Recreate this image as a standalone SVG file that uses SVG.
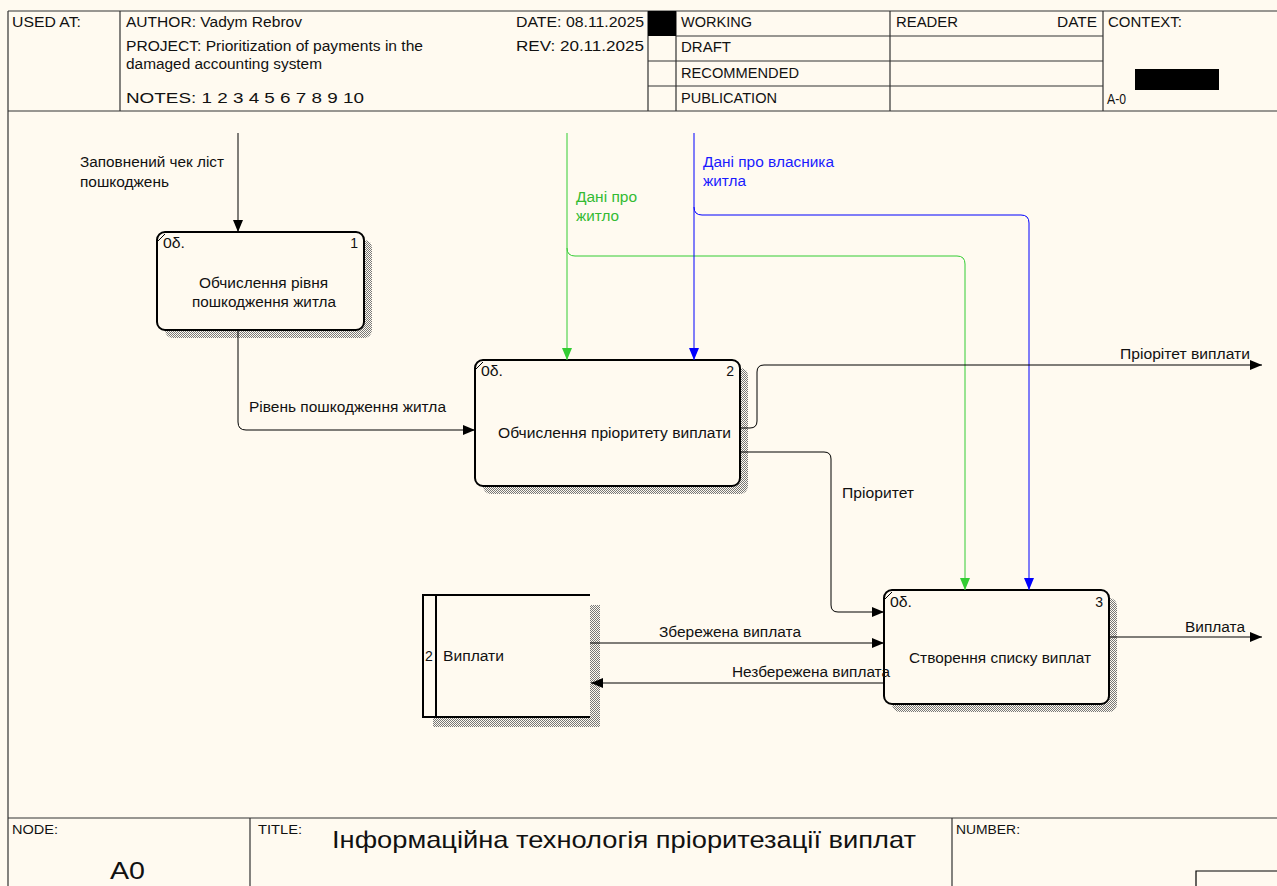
<svg xmlns="http://www.w3.org/2000/svg" width="1277" height="886" viewBox="0 0 1277 886">
<style>
text{font-family:"Liberation Sans",Arial,sans-serif;font-size:14px;fill:#111}
.small{font-size:12px}
.frame{fill:none;stroke:#333;stroke-width:1.2}
.box{fill:#FFFAF0;stroke:#000;stroke-width:2}
.shadow{fill:url(#hatch)}
.con{fill:none;stroke:#000;stroke-width:1}
.g{fill:none;stroke:#33cc33;stroke-width:1}
.b{fill:none;stroke:#0000ff;stroke-width:1}
.gt{fill:#33bb33}
.bt{fill:#1a1aff}
</style>
<defs>
<pattern id="hatch" width="2" height="2" patternUnits="userSpaceOnUse">
<rect width="2" height="2" fill="#FFFAF0"/>
<rect width="1" height="1" fill="#777"/>
<rect x="1" y="1" width="1" height="1" fill="#777"/>
</pattern>
<marker id="ak" markerWidth="12" markerHeight="10" refX="12" refY="5" orient="auto" markerUnits="userSpaceOnUse"><path d="M0,0 L12,5 L0,10 Z" fill="#000"/></marker>
<marker id="ag" markerWidth="12" markerHeight="10" refX="12" refY="5" orient="auto" markerUnits="userSpaceOnUse"><path d="M0,0 L12,5 L0,10 Z" fill="#33cc33"/></marker>
<marker id="ab" markerWidth="12" markerHeight="10" refX="12" refY="5" orient="auto" markerUnits="userSpaceOnUse"><path d="M0,0 L12,5 L0,10 Z" fill="#0000ff"/></marker>
</defs>
<rect width="1277" height="886" fill="#FFFAF0"/>

<g id="header">
<path class="frame" d="M8,11 H1277 M8,11 V886 M8,111 H1277 M120,11 V111 M648,11 V111 M676,11 V111 M890,11 V111 M1103,11 V111 M676,36 H1103 M648,61 H1103 M648,86 H1103"/>
<rect x="648" y="11" width="28" height="25" fill="#000"/>
<rect x="1135" y="69" width="84" height="21" fill="#000"/>
<text x="12" y="27" textLength="69" lengthAdjust="spacingAndGlyphs">USED AT:</text>
<text x="126" y="27" textLength="176" lengthAdjust="spacingAndGlyphs">AUTHOR:  Vadym Rebrov</text>
<text x="126" y="51" textLength="297" lengthAdjust="spacingAndGlyphs">PROJECT:  Prioritization of payments in the</text>
<text x="126" y="69" textLength="196" lengthAdjust="spacingAndGlyphs">damaged accounting system</text>
<text x="126" y="103" textLength="238" lengthAdjust="spacingAndGlyphs">NOTES:  1  2  3  4  5  6  7  8  9  10</text>
<text x="516" y="27" textLength="128" lengthAdjust="spacingAndGlyphs">DATE:  08.11.2025</text>
<text x="516" y="51" textLength="128" lengthAdjust="spacingAndGlyphs">REV:    20.11.2025</text>
<text x="681" y="27" textLength="71" lengthAdjust="spacingAndGlyphs">WORKING</text>
<text x="681" y="52" textLength="50" lengthAdjust="spacingAndGlyphs">DRAFT</text>
<text x="681" y="78" textLength="118" lengthAdjust="spacingAndGlyphs">RECOMMENDED</text>
<text x="681" y="103" textLength="96" lengthAdjust="spacingAndGlyphs">PUBLICATION</text>
<text x="896" y="27" textLength="62" lengthAdjust="spacingAndGlyphs">READER</text>
<text x="1057" y="27" textLength="40" lengthAdjust="spacingAndGlyphs">DATE</text>
<text x="1108" y="27" textLength="74" lengthAdjust="spacingAndGlyphs">CONTEXT:</text>
<text x="1107" y="104" textLength="19" lengthAdjust="spacingAndGlyphs">A-0</text>
</g>

<g id="footer">
<path class="frame" d="M8,818 H1277 M250,818 V886 M952,818 V886"/>
<path d="M1196,886 V871 H1277" fill="none" stroke="#000" stroke-width="1.2"/>
<text class="small" x="12" y="834" textLength="46" lengthAdjust="spacingAndGlyphs">NODE:</text>
<text x="110" y="879" style="font-size:24px" textLength="35" lengthAdjust="spacingAndGlyphs">A0</text>
<text class="small" x="258" y="834" textLength="44" lengthAdjust="spacingAndGlyphs">TITLE:</text>
<text x="332" y="848" style="font-size:24px" textLength="584" lengthAdjust="spacingAndGlyphs">Інформаційна технологія пріоритезації виплат</text>
<text class="small" x="956" y="834" textLength="64" lengthAdjust="spacingAndGlyphs">NUMBER:</text>
</g>

<g id="node1">
<rect class="shadow" x="165" y="240" width="207" height="98" rx="8"/>
<rect class="box" x="157" y="232" width="207" height="98" rx="8"/>
<path d="M158,241 L165,234" stroke="#000" stroke-width="1"/>
<text x="163" y="248" textLength="22" lengthAdjust="spacingAndGlyphs">0δ.</text>
<text x="358" y="248" text-anchor="end">1</text>
<text x="199" y="288" textLength="129" lengthAdjust="spacingAndGlyphs">Обчислення рівня</text>
<text x="192" y="307" textLength="144" lengthAdjust="spacingAndGlyphs">пошкодження житла</text>
</g>

<g id="node2">
<rect class="shadow" x="483" y="368" width="265" height="126" rx="8"/>
<rect class="box" x="475" y="360" width="265" height="126" rx="8"/>
<path d="M476,369 L483,362" stroke="#000" stroke-width="1"/>
<text x="481" y="376" textLength="22" lengthAdjust="spacingAndGlyphs">0δ.</text>
<text x="734" y="376" text-anchor="end">2</text>
<text x="498" y="438" textLength="233" lengthAdjust="spacingAndGlyphs">Обчислення пріоритету виплати</text>
</g>

<g id="node3">
<rect class="shadow" x="892" y="598" width="225" height="114" rx="8"/>
<rect class="box" x="884" y="590" width="225" height="114" rx="8"/>
<path d="M885,599 L892,592" stroke="#000" stroke-width="1"/>
<text x="890" y="607" textLength="22" lengthAdjust="spacingAndGlyphs">0δ.</text>
<text x="1103" y="607" text-anchor="end">3</text>
<text x="909" y="663" textLength="182" lengthAdjust="spacingAndGlyphs">Створення списку виплат</text>
</g>

<g id="store2">
<rect class="shadow" x="590" y="605" width="10" height="122"/>
<rect class="shadow" x="433" y="717" width="167" height="10"/>
<rect x="423" y="595" width="167" height="122" fill="#FFFAF0"/>
<path d="M590,595 H423 V717 H590 M436,595 V717" fill="none" stroke="#000" stroke-width="2"/>
<text x="425" y="661">2</text>
<text x="443" y="661" textLength="61" lengthAdjust="spacingAndGlyphs">Виплати</text>
</g>

<g id="connectors">
<path class="con" d="M238,133 V232" marker-end="url(#ak)"/>
<path class="con" d="M238,330 V422 Q238,430 246,430 H475" marker-end="url(#ak)"/>
<path class="g" d="M567,133 V360" marker-end="url(#ag)"/>
<path class="g" d="M567,248 Q567,256 575,256 H957 Q965,256 965,264 V590" marker-end="url(#ag)"/>
<path class="b" d="M694,133 V360" marker-end="url(#ab)"/>
<path class="b" d="M694,207 Q694,215 702,215 H1021 Q1029,215 1029,223 V590" marker-end="url(#ab)"/>
<path class="con" d="M740,428 H750 Q757,428 757,421 V372 Q757,365 764,365 H1262" marker-end="url(#ak)"/>
<path class="con" d="M740,452 H824 Q831,452 831,459 V605 Q831,612 838,612 H884" marker-end="url(#ak)"/>
<path class="con" d="M590,643 H884" marker-end="url(#ak)"/>
<path class="con" d="M884,683 H591" marker-end="url(#ak)"/>
<path class="con" d="M1109,637 H1262" marker-end="url(#ak)"/>
<text x="80" y="167" textLength="144" lengthAdjust="spacingAndGlyphs">Заповнений чек ліст</text>
<text x="80" y="187" textLength="89" lengthAdjust="spacingAndGlyphs">пошкоджень</text>
<text x="249" y="412" textLength="197" lengthAdjust="spacingAndGlyphs">Рівень пошкодження житла</text>
<text class="gt" x="576" y="202" textLength="61" lengthAdjust="spacingAndGlyphs">Дані про</text>
<text class="gt" x="576" y="221" textLength="43" lengthAdjust="spacingAndGlyphs">житло</text>
<text class="bt" x="703" y="167" textLength="131" lengthAdjust="spacingAndGlyphs">Дані про власника</text>
<text class="bt" x="703" y="186" textLength="43" lengthAdjust="spacingAndGlyphs">житла</text>
<text x="1120" y="359" textLength="130" lengthAdjust="spacingAndGlyphs">Пріорітет виплати</text>
<text x="842" y="498" textLength="72" lengthAdjust="spacingAndGlyphs">Пріоритет</text>
<text x="659" y="637" textLength="142" lengthAdjust="spacingAndGlyphs">Збережена виплата</text>
<text x="732" y="677" textLength="158" lengthAdjust="spacingAndGlyphs">Незбережена виплата</text>
<text x="1185" y="632" textLength="60" lengthAdjust="spacingAndGlyphs">Виплата</text>
</g>
</svg>
